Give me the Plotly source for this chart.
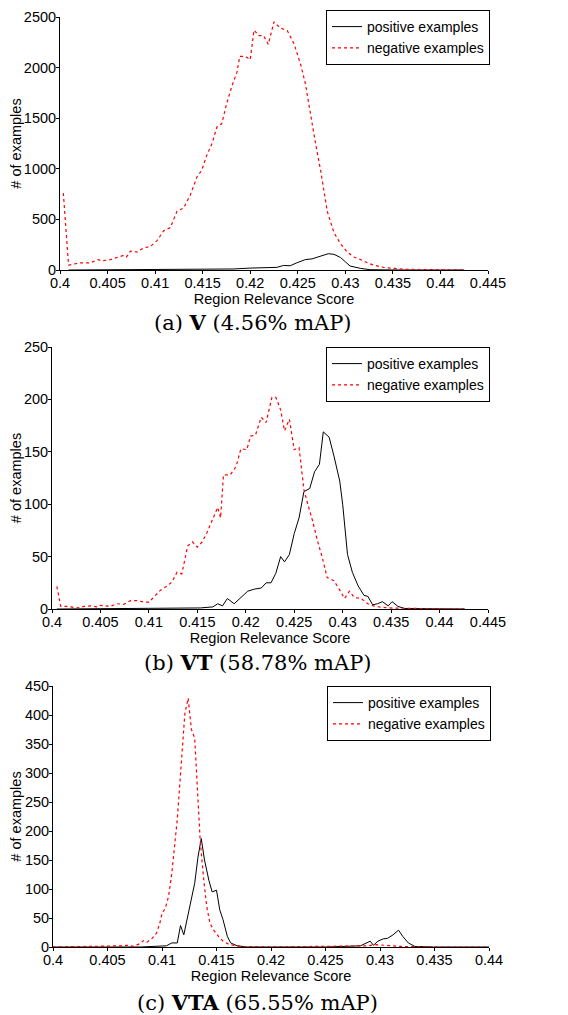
import plotly.graph_objects as go

# ---------------- data ----------------
# Panel (a) V
a_neg_x = [0.40035, 0.4009, 0.4021, 0.4032, 0.4040, 0.4044, 0.4053, 0.4060, 0.4067, 0.4070, 0.4074,
           0.4081, 0.4088, 0.4095, 0.4102, 0.4109, 0.4116, 0.4123, 0.4130, 0.4137, 0.4144, 0.4149,
           0.4154, 0.4160, 0.4165, 0.4170, 0.4175, 0.4181, 0.4186, 0.4189, 0.4195, 0.4200, 0.4204,
           0.4209, 0.4214, 0.4219, 0.4225, 0.4231, 0.4239, 0.4246, 0.4253, 0.4258, 0.4263, 0.4268,
           0.4274, 0.4281, 0.4288, 0.4295, 0.4302, 0.4309, 0.4316, 0.4323, 0.4330, 0.4340, 0.4351,
           0.4365, 0.4393, 0.4425]
a_neg_y = [760, 48, 71, 71, 103, 90, 103, 123, 145, 129, 187,
           177, 219, 232, 290, 387, 419, 580, 613, 742, 919, 984,
           1127, 1254, 1413, 1444, 1635, 1825, 1952, 2110, 2110, 2078, 2370,
           2316, 2316, 2230, 2452, 2395, 2364, 2237, 2031, 1841, 1540, 1286,
           985, 580, 371, 258, 177, 129, 103, 71, 48, 26, 16,
           6, 3, 0]
a_pos_x = [0.4009, 0.405, 0.410, 0.415, 0.417, 0.4182, 0.4200, 0.4218, 0.4228, 0.4235, 0.4242,
           0.4249, 0.4258, 0.4265, 0.4272, 0.4277, 0.4282, 0.4288, 0.4295, 0.4300, 0.4305,
           0.4316, 0.4326, 0.4358, 0.4425]
a_pos_y = [0, 1, 2, 3, 5, 10, 19, 23, 26, 45, 42,
           71, 103, 110, 129, 142, 161, 155, 123, 81, 39,
           16, 3, 0, 0]

# Panel (b) VT
b_neg_x = [0.4005, 0.4009, 0.4016, 0.4026, 0.4033, 0.4040, 0.4047, 0.4050, 0.4060, 0.4067, 0.4074,
           0.4081, 0.4088, 0.4095, 0.4100, 0.4105, 0.4112, 0.4119, 0.4124, 0.4129, 0.4134, 0.4140,
           0.4145, 0.4150, 0.4155, 0.4160, 0.4166, 0.4171, 0.4174, 0.4177, 0.4184, 0.4190, 0.4195,
           0.4201, 0.4205, 0.4210, 0.4216, 0.4221, 0.4227, 0.4231, 0.4236, 0.4240, 0.4245, 0.4250,
           0.4255, 0.4260, 0.4264, 0.4269, 0.4274, 0.4279, 0.4284, 0.4291, 0.4297, 0.4302, 0.4307,
           0.4312, 0.4319, 0.4326, 0.4333, 0.4347, 0.4378, 0.4426]
b_neg_y = [21.5, 2.5, 2.5, 1, 2.5, 3, 2, 3.5, 2.5, 5, 4.5,
           8, 8, 6.5, 6.5, 11, 18, 22, 26, 35, 33.5, 60,
           64, 59, 64, 73, 86, 97, 87, 128, 128, 136, 153,
           152, 165, 166, 183, 178, 202, 202, 190, 170, 181, 152,
           154, 114, 100, 84, 65, 49, 30, 27, 18, 10, 17,
           11, 10, 5, 2.5, 1, 0.5, 0]
b_pos_x = [0.4005, 0.4050, 0.4100, 0.4153, 0.4166, 0.4171, 0.4176, 0.4181, 0.4188, 0.4195, 0.4202,
           0.4209, 0.4216, 0.4221, 0.4226, 0.4231, 0.4236, 0.4240, 0.4245, 0.4250, 0.4255, 0.4260,
           0.4266, 0.4271, 0.4276, 0.4280, 0.4286, 0.4291, 0.4297, 0.4300, 0.4305, 0.4310, 0.4316,
           0.4322, 0.4326, 0.4331, 0.4336, 0.4341, 0.4347, 0.4351, 0.4357, 0.4364, 0.4395, 0.4426]
b_pos_y = [0, 0.5, 0.5, 1, 2, 5, 3, 10, 5, 11, 17,
           19, 20, 25, 25, 34, 50, 45, 52, 72, 87, 112,
           115, 131, 138, 169, 164, 146, 122, 100, 52, 35, 22,
           13, 12, 4, 5, 7, 3, 7, 2.5, 0.5, 0.5, 0]

# Panel (c) VTA
c_neg_x = [0.4000, 0.4040, 0.4062, 0.4068, 0.4074, 0.4080, 0.4083, 0.4086, 0.4091, 0.4095, 0.4098,
           0.4100, 0.4103, 0.4106, 0.4109, 0.4114, 0.4117, 0.4121, 0.4124, 0.4127, 0.4130, 0.4133,
           0.4135, 0.4138, 0.4141, 0.4144, 0.4147, 0.4152, 0.4156, 0.4162, 0.4172, 0.4196, 0.4265,
           0.4288, 0.4297, 0.4318, 0.4349, 0.4400]
c_neg_y = [0, 1, 2, 3, 1, 6, 11, 8, 15, 24, 41,
           58, 67, 87, 127, 220, 295, 403, 429, 375, 360, 255,
           185, 121, 70, 41, 30, 18, 10, 4, 1, 0, 1,
           2, 4, 1, 0, 0]
c_pos_x = [0.4000, 0.4080, 0.4104, 0.4109, 0.4114, 0.4117, 0.4120, 0.4123, 0.4127, 0.4130, 0.4133,
           0.4136, 0.4139, 0.4143, 0.4146, 0.4150, 0.4153, 0.4156, 0.4160, 0.4163, 0.4169, 0.4178,
           0.4250, 0.4282, 0.4291, 0.4294, 0.4298, 0.4303, 0.4307, 0.4312, 0.4317, 0.4321, 0.4326,
           0.4332, 0.4349, 0.4400]
c_pos_y = [0, 0, 2, 7, 7, 37, 21, 47, 81, 110, 155,
           187, 150, 115, 95, 98, 64, 47, 18, 7, 2, 0,
           0, 2, 10, 3, 10, 14, 15, 21, 29, 18, 7,
           1, 0, 0]

panel_ranges_x = [[0.4, 0.445], [0.4, 0.445], [0.4, 0.44]]
panel_ranges_y = [[0, 2500], [0, 250], [0, 450]]
y_dticks = [500, 50, 50]
captions = ["(a) <b>V</b> (4.56% mAP)", "(b) <b>VT</b> (58.78% mAP)", "(c) <b>VTA</b> (65.55% mAP)"]
pos_name = "positive examples"
neg_name = "negative examples"
x_title = "Region Relevance Score"
y_title = "# of examples"

# ---------------- layout geometry ----------------
# The page body has an 8px margin, so the figure is drawn 8px in from the
# window's corner; positions below are window pixels and are converted.
OFF = 8
W, H = 568 - OFF, 1015 - OFF
def fx(px):
    return (px - OFF) / W
def fy(py):
    return 1 - (py - OFF) / H

# (left, right, top, bottom) of each plot area in window px
boxes = [(60, 488, 17, 270), (52, 488, 347, 609), (53, 489, 686, 947)]
legend_pos = [(490, 10), (490, 347), (491, 686)]
caption_pos = [(253, 322), (257, 662), (257, 1002)]

fig = go.Figure()
series = [(a_pos_x, a_pos_y, a_neg_x, a_neg_y),
          (b_pos_x, b_pos_y, b_neg_x, b_neg_y),
          (c_pos_x, c_pos_y, c_neg_x, c_neg_y)]

font_sans = "Liberation Sans, Arial, Helvetica, sans-serif"
layout = dict(width=W, height=H, margin=dict(l=0, r=0, t=0, b=0, autoexpand=False),
              paper_bgcolor="white", plot_bgcolor="white",
              font=dict(family=font_sans, size=14.5, color="black"))
annotations = []
for i, (px, py, nx, ny) in enumerate(series):
    k = "" if i == 0 else str(i + 1)
    leg = "legend" if i == 0 else "legend" + str(i + 1)
    fig.add_trace(go.Scatter(x=px, y=py, mode="lines", name=pos_name,
                             line=dict(color="black", width=1),
                             xaxis="x" + k, yaxis="y" + k, legend=leg))
    fig.add_trace(go.Scatter(x=nx, y=ny, mode="lines", name=neg_name,
                             line=dict(color="red", width=1.2, dash="dot"),
                             xaxis="x" + k, yaxis="y" + k, legend=leg))
    l, r, t, b = boxes[i]
    layout["xaxis" + k] = dict(domain=[fx(l), fx(r)], anchor="y" + k, automargin=False,
                               range=panel_ranges_x[i], tick0=0.4, dtick=0.005,
                               showgrid=False, zeroline=False, showline=True,
                               linecolor="black", linewidth=1, ticks="outside",
                               ticklen=3, tickcolor="black", ticklabelstandoff=-3,
                               ticklabeloverflow="allow",
                               title=dict(text=x_title, standoff=0, font=dict(size=14.5)))
    layout["yaxis" + k] = dict(domain=[fy(b), fy(t)], anchor="x" + k, automargin=False,
                               range=panel_ranges_y[i], dtick=y_dticks[i],
                               showgrid=False, zeroline=False, showline=True,
                               linecolor="black", linewidth=1, ticks="outside",
                               ticklen=3, tickcolor="black", ticklabelstandoff=-3,
                               ticklabeloverflow="allow",
                               title=dict(text=y_title, standoff=2, font=dict(size=14.5)))
    lx, ly = legend_pos[i]
    layout[leg] = dict(x=fx(lx), y=fy(ly), xanchor="right", yanchor="top",
                       bordercolor="black", borderwidth=1, bgcolor="white",
                       font=dict(size=14), itemwidth=30, tracegroupgap=0)
    cx, cy = caption_pos[i]
    annotations.append(dict(text=captions[i], x=fx(cx), y=fy(cy), xref="paper",
                            yref="paper", showarrow=False, xanchor="center",
                            yanchor="middle",
                            font=dict(family="DejaVu Serif, serif", size=21, color="black")))
layout["annotations"] = annotations
fig.update_layout(**layout)
fig.write_html("out.html")
